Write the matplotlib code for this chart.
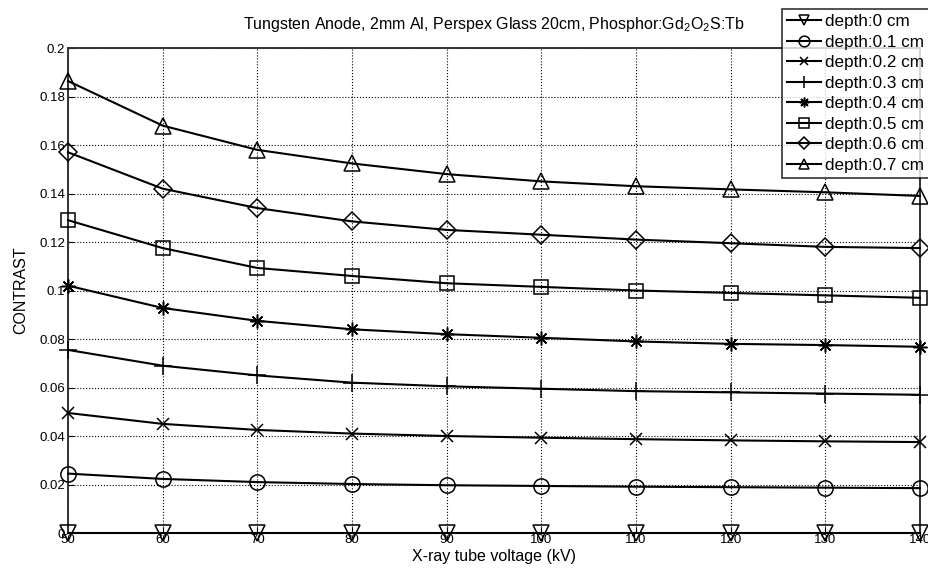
import numpy as np
import matplotlib
matplotlib.use('Agg')
from matplotlib import pyplot as plt

plt.rcParams['font.family'] = ['Liberation Sans', 'DejaVu Sans']
plt.rcParams['mathtext.default'] = 'regular'

voltage = [50, 60, 70, 80, 90, 100, 110, 120, 130, 140]
depth_labels = ['depth:0 cm', 'depth:0.1 cm', 'depth:0.2 cm', 'depth:0.3 cm',
                'depth:0.4 cm', 'depth:0.5 cm', 'depth:0.6 cm', 'depth:0.7 cm']
contrast_d00 = [0, 0, 0, 0, 0, 0, 0, 0, 0, 0]
contrast_d01 = [0.0245, 0.0223, 0.0210, 0.0202, 0.0197, 0.0194, 0.0191, 0.0189, 0.0187, 0.0185]
contrast_d02 = [0.0495, 0.0450, 0.0425, 0.0410, 0.0400, 0.0393, 0.0387, 0.0382, 0.0378, 0.0375]
contrast_d03 = [0.0755, 0.0690, 0.0650, 0.0620, 0.0605, 0.0595, 0.0585, 0.0580, 0.0575, 0.0570]
contrast_d04 = [0.1020, 0.0928, 0.0875, 0.0840, 0.0820, 0.0805, 0.0790, 0.0780, 0.0775, 0.0768]
contrast_d05 = [0.1290, 0.1175, 0.1093, 0.1060, 0.1030, 0.1015, 0.1000, 0.0990, 0.0980, 0.0970]
contrast_d06 = [0.1570, 0.1420, 0.1340, 0.1285, 0.1250, 0.1230, 0.1210, 0.1195, 0.1180, 0.1175]
contrast_d07 = [0.1864, 0.1680, 0.1580, 0.1524, 0.1480, 0.1450, 0.1430, 0.1417, 0.1405, 0.1390]
series = [contrast_d00, contrast_d01, contrast_d02, contrast_d03,
          contrast_d04, contrast_d05, contrast_d06, contrast_d07]
markers = ['v', 'o', 'x', '+', (8, 2, 0), 's', 'D', '^']
msizes = [11, 11, 8, 13, 10, 10, 9, 11]

fig = plt.figure(figsize=(9.29, 5.73), dpi=100)
ax = fig.add_axes([0.0732, 0.0698, 0.917, 0.8464])

for y, lab, m, ms in zip(series, depth_labels, markers, msizes):
    ax.plot(voltage, y, color='black', linewidth=1.5, marker=m, markersize=ms,
            markerfacecolor='none', markeredgecolor='black', markeredgewidth=1.1,
            label=lab, clip_on=False, zorder=3)

ax.set_xlim(50, 140)
ax.set_ylim(0, 0.2)
ax.set_xticks(voltage)
ax.set_yticks(np.arange(0, 0.201, 0.02))
ax.set_yticklabels(['0', '0.02', '0.04', '0.06', '0.08', '0.1', '0.12', '0.14', '0.16', '0.18', '0.2'])
ax.grid(True, linestyle=':', color='black', linewidth=0.8)
ax.tick_params(labelsize=9.5, pad=2, direction='in', length=4)
ax.tick_params(axis='x', pad=1)
for sp in ax.spines.values():
    sp.set_linewidth(1.4)
    sp.set_color('#333333')

ax.set_xlabel('X-ray tube voltage (kV)', fontsize=11.5, labelpad=2)
ax.set_ylabel('CONTRAST', fontsize=11.5, labelpad=8)
ax.set_title('Tungsten Anode, 2mm Al, Perspex Glass 20cm, Phosphor:Gd$_2$O$_2$S:Tb',
             fontsize=11.5, pad=14)

leg = ax.legend(loc='upper right', bbox_to_anchor=(1.0, 0.984), bbox_transform=fig.transFigure,
                fontsize=12.3, frameon=True, fancybox=False, edgecolor='black',
                handlelength=2.0, handletextpad=0.2, borderpad=0.3, labelspacing=0.32,
                borderaxespad=0, markerscale=0.7)
leg.get_frame().set_linewidth(1.2)
leg.set_zorder(5)

fig.savefig('out.png', dpi=100)
